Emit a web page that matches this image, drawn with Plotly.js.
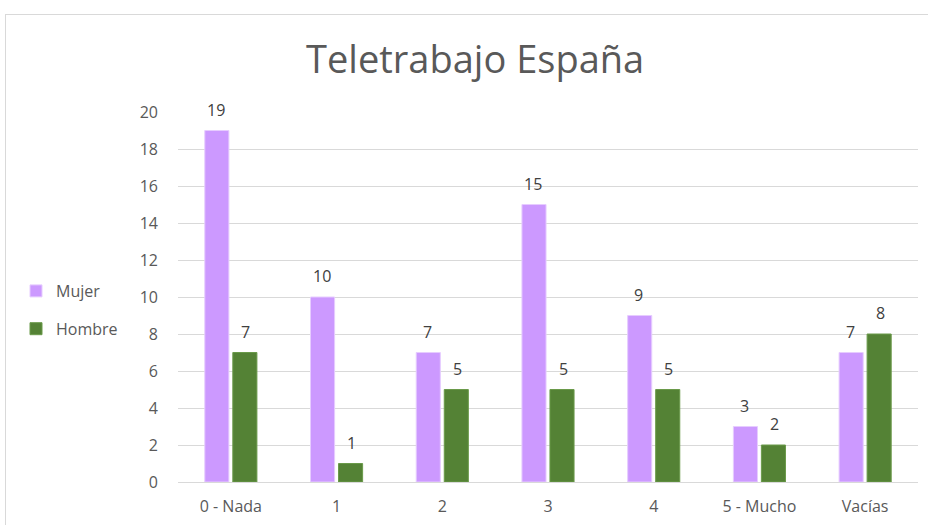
<!DOCTYPE html>
<html>
<head>
<meta charset="utf-8">
<script src="https://cdn.plot.ly/plotly-3.0.1.min.js"></script>
<style>
html,body{margin:0;padding:0;background:#fff;overflow:hidden;}
#frame{position:absolute;left:5px;top:14px;width:1000px;height:600px;border:1px solid #D9D9D9;box-sizing:border-box;pointer-events:none;}
#chart{position:absolute;left:0;top:0;width:928px;height:525px;}
</style>
</head>
<body>
<div id="chart"></div>
<div id="frame"></div>
<script>
const categories = ['0 - Nada', '1', '2', '3', '4', '5 - Mucho', 'Vacías'];
const mujer = [19, 10, 7, 15, 9, 3, 7];
const hombre = [7, 1, 5, 5, 5, 2, 8];
const seriesNames = ['Mujer', 'Hombre'];
const yTicks = [0, 2, 4, 6, 8, 10, 12, 14, 16, 18, 20];

const colMujer = '#CC99FF';
const colHombre = '#548235';
const txt = '#595959';
const fontFam = '"Open Sans", "Noto Sans", sans-serif';

const traces = [
  {type:'bar', name:seriesNames[0], x:categories, y:mujer, marker:{color:colMujer, line:{color:'#E6CCFF', width:1}}, legendgroup:'a', hoverinfo:'none'},
  {type:'bar', name:seriesNames[1], x:categories, y:hombre, marker:{color:colHombre, line:{color:'#6A9A4A', width:1}}, legendgroup:'b', hoverinfo:'none'}
];

const annotations = [];
categories.forEach((c, i) => {
  annotations.push({x:c, y:mujer[i], text:String(mujer[i]), showarrow:false, xshift:-15, yshift:8, yanchor:'bottom', font:{family:fontFam, size:16, color:'#404040'}});
  annotations.push({x:c, y:hombre[i], text:String(hombre[i]), showarrow:false, xshift:15, yshift:8, yanchor:'bottom', font:{family:fontFam, size:16, color:'#404040'}});
});

const layout = {
  width:928, height:525,
  margin:{l:178, r:10, t:112, b:43, pad:0},
  paper_bgcolor:'rgba(0,0,0,0)', plot_bgcolor:'#fff',
  font:{family:fontFam, size:16, color:txt},
  title:{text:'Teletrabajo España', x:0.512, xref:'container', xanchor:'center', y:1-60/525, yref:'container', yanchor:'middle', font:{family:fontFam, size:38, color:txt}},
  barmode:'group', bargap:0.47, bargroupgap:0.14,
  showlegend:true,
  legend:{xref:'container', yref:'container', x:16/928, y:1-310/525, xanchor:'left', yanchor:'middle', traceorder:'grouped', tracegroupgap:14, itemwidth:30, font:{family:fontFam, size:16, color:txt}, bgcolor:'rgba(0,0,0,0)'},
  xaxis:{type:'category', showgrid:false, zeroline:false, showline:false, ticks:'', tickfont:{size:16, color:txt}, ticklabelstandoff:13},
  yaxis:{range:[0,20], tickvals:yTicks, ticktext:yTicks.map(String), showgrid:true, gridcolor:'#D9D9D9', gridwidth:1, zeroline:true, zerolinecolor:'#D9D9D9', zerolinewidth:1, showline:false, ticks:'', tickfont:{size:16, color:txt}, ticklabelstandoff:19},
  annotations:annotations
};

Plotly.newPlot('chart', traces, layout, {displayModeBar:false, staticPlot:true});
</script>
</body>
</html>
